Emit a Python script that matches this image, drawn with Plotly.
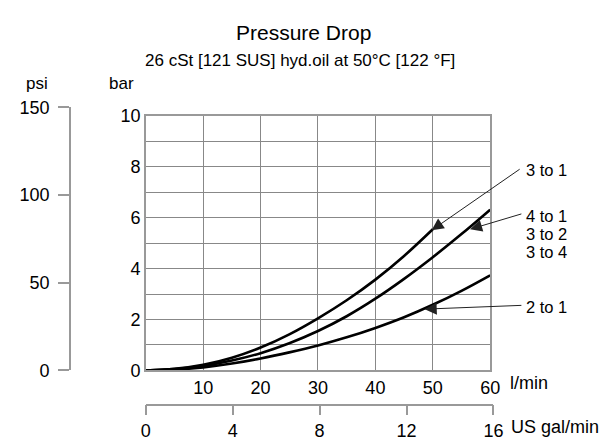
import plotly.graph_objects as go

# ---------------- data ----------------
flow_lpm = [0, 5, 10, 15, 20, 25, 30, 35, 40, 45, 50, 55, 60]
dp_3to1 = [0, 0.06, 0.22, 0.50, 0.90, 1.42, 2.05, 2.76, 3.57, 4.50, 5.55]          # ends at 50 l/min
dp_4to1 = [0, 0.05, 0.18, 0.39, 0.68, 1.07, 1.55, 2.13, 2.82, 3.60, 4.45, 5.36, 6.32]
dp_2to1 = [0, 0.03, 0.12, 0.27, 0.47, 0.71, 0.98, 1.30, 1.67, 2.09, 2.58, 3.13, 3.74]

bar_ticks = [0, 2, 4, 6, 8, 10]
lpm_ticks = [10, 20, 30, 40, 50, 60]
psi_ticks = [0, 50, 100, 150]
gpm_ticks = [0, 4, 8, 12, 16]

# curve points the leader arrows point at (l/min, bar) and where the leaders start
arrow_tips = [(49.8, 5.51), (56.5, 5.55), (48.6, 2.41)]
arrow_tails = [(65.4, 7.95), (65.7, 6.17), (65.7, 2.56)]
label_texts = ["3 to 1", "4 to 1", "3 to 2", "3 to 4", "2 to 1"]
label_pos = [(65.9, 7.87), (65.9, 6.08), (65.9, 5.36), (65.9, 4.65), (65.9, 2.50)]

PSI_PER_BAR = 14.5038
LPM_PER_GPM = 3.78541

# ---------------- layout geometry ----------------
W, H = 609, 445
L, R, T, B = 40, 40, 90, 20
PW, PH = W - L - R, H - T - B
X0, X1 = 137, 482      # pixel of 0 and 60 l/min
Y0, Y1 = 377, 109      # pixel of 0 and 10 bar


def xf(px):
    return (px - L) / PW


def yf(py):
    return (T + PH - py) / PH


def lpm_to_px(v):
    return X0 + v * (X1 - X0) / 60


def bar_to_px(v):
    return Y0 - v * (Y0 - Y1) / 10


psi_top_px = bar_to_px(150 / PSI_PER_BAR)
gpm_end_px = lpm_to_px(16 * LPM_PER_GPM)

FONT = "Liberation Sans, Arial, sans-serif"
GRID = "#888888"
AX = "#999999"

fig = go.Figure()
for ys in (dp_3to1, dp_4to1, dp_2to1):
    fig.add_trace(go.Scatter(x=flow_lpm[:len(ys)], y=ys, mode="lines",
                             line=dict(color="black", width=2.6, shape="spline"),
                             hoverinfo="skip", showlegend=False))
# invisible trace so the secondary (psi / gal) axes get drawn
fig.add_trace(go.Scatter(x=[0, 16], y=[0, 150], xaxis="x2", yaxis="y2", mode="markers",
                         marker=dict(opacity=0), hoverinfo="skip", showlegend=False))

ann = []
for (tx, ty), (ax_, ay_) in zip(arrow_tips, arrow_tails):
    ann.append(dict(x=tx, y=ty, xref="x", yref="y", ax=ax_, ay=ay_, axref="x", ayref="y",
                    text="", showarrow=True, arrowhead=2, arrowsize=2.4, arrowwidth=1,
                    arrowcolor="#222222"))
for t, (lx, ly) in zip(label_texts, label_pos):
    ann.append(dict(x=xf(lpm_to_px(lx)), y=yf(bar_to_px(ly)), xref="paper", yref="paper",
                    text=t, showarrow=False, xanchor="left", yanchor="middle",
                    font=dict(size=16.5)))
# titles / unit labels
ann += [
    dict(x=xf(295), y=yf(21), xref="paper", yref="paper", text="Pressure Drop",
         showarrow=False, font=dict(size=21), xanchor="center", yanchor="middle"),
    dict(x=xf(291), y=yf(51), xref="paper", yref="paper",
         text="26 cSt [121 SUS] hyd.oil at 50°C [122 °F]",
         showarrow=False, font=dict(size=17), xanchor="center", yanchor="middle"),
    dict(x=xf(28), y=yf(75), xref="paper", yref="paper", text="psi",
         showarrow=False, font=dict(size=17), xanchor="center", yanchor="middle"),
    dict(x=xf(113), y=yf(75), xref="paper", yref="paper", text="bar",
         showarrow=False, font=dict(size=17), xanchor="center", yanchor="middle"),
    dict(x=xf(500), y=yf(390), xref="paper", yref="paper", text="l/min",
         showarrow=False, font=dict(size=18), xanchor="left", yanchor="middle"),
    dict(x=xf(501), y=yf(437), xref="paper", yref="paper", text="US gal/min",
         showarrow=False, font=dict(size=18), xanchor="left", yanchor="middle"),
]

fig.update_layout(
    width=W, height=H, margin=dict(l=L, r=R, t=T, b=B),
    paper_bgcolor="white", plot_bgcolor="rgba(0,0,0,0)",
    font=dict(family=FONT, size=18, color="black"),
    showlegend=False,
    xaxis=dict(domain=[xf(X0), xf(X1)], range=[0, 60],
               tickmode="array", tickvals=list(range(0, 61, 10)),
               ticktext=[""] + [str(v) for v in lpm_ticks],
               showgrid=True, gridcolor=GRID, gridwidth=1, zeroline=False,
               showline=True, linecolor=AX, linewidth=1.5, mirror=True,
               ticks="", anchor="y", fixedrange=True),
    yaxis=dict(domain=[yf(Y0), yf(Y1)], range=[0, 10],
               tickmode="array", tickvals=list(range(0, 11)),
               ticktext=[str(v) if v in bar_ticks else "" for v in range(0, 11)],
               showgrid=True, gridcolor=GRID, gridwidth=1, zeroline=False,
               showline=True, linecolor=AX, linewidth=1.5, mirror=True,
               ticks="", anchor="x", fixedrange=True),
    xaxis2=dict(domain=[xf(X0), xf(gpm_end_px)], range=[0, 16], anchor="free",
                position=yf(413), side="bottom",
                tickmode="array", tickvals=gpm_ticks, ticktext=[str(v) for v in gpm_ticks],
                ticks="outside", ticklen=10, tickcolor=AX, tickwidth=1.5,
                showline=True, linecolor=AX, linewidth=1.5,
                showgrid=False, zeroline=False, fixedrange=True),
    yaxis2=dict(domain=[yf(Y0), yf(psi_top_px)], range=[0, 150], anchor="free",
                position=xf(61), side="left", ticklabelstandoff=5,
                tickmode="array", tickvals=psi_ticks, ticktext=[str(v) for v in psi_ticks],
                ticks="outside", ticklen=11, tickcolor=AX, tickwidth=1.5,
                showline=True, linecolor=AX, linewidth=1.5,
                showgrid=False, zeroline=False, fixedrange=True),
    annotations=ann,
)

fig.write_html("out.html")
